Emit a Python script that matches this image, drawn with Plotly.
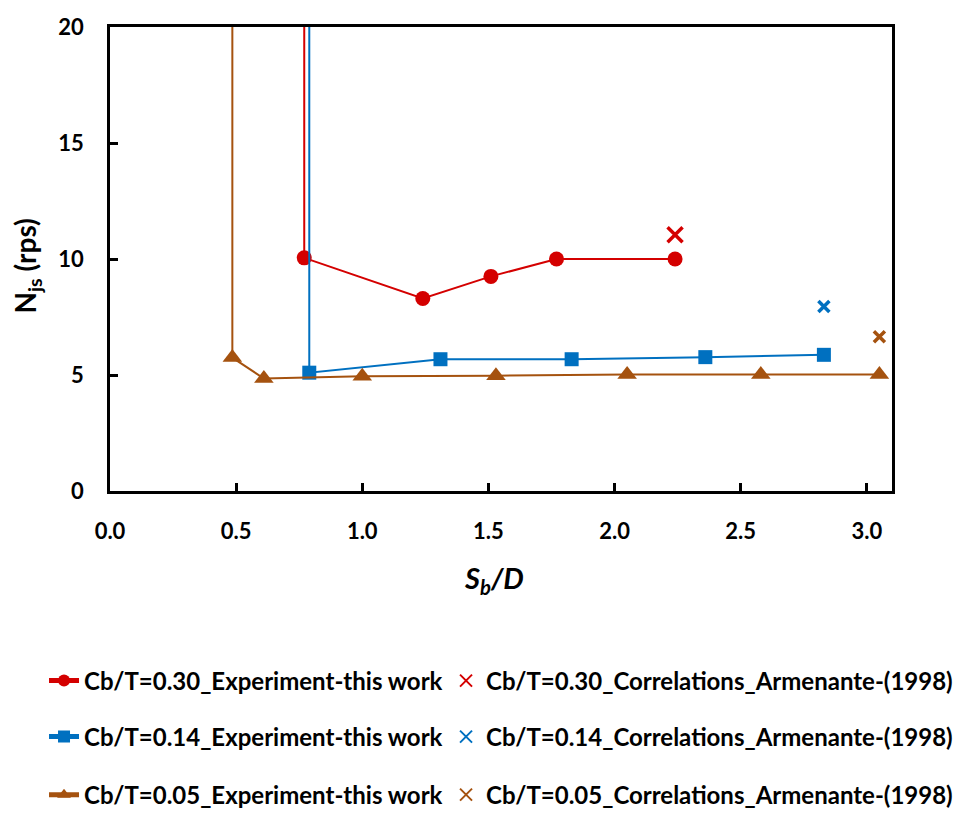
import plotly.graph_objects as go

# Just-suspended speed N_js (rps) against baffle spacing S_b/D
sb_030 = [0.77, 0.77, 1.24, 1.51, 1.77, 2.24]
njs_030 = [20.0, 10.05, 8.3, 9.25, 10.0, 10.0]
sb_014 = [0.79, 0.79, 1.31, 1.83, 2.36, 2.83]
njs_014 = [20.0, 5.1, 5.68, 5.68, 5.77, 5.87]
sb_005 = [0.485, 0.485, 0.61, 1.0, 1.53, 2.05, 2.58, 3.05]
njs_005 = [20.0, 5.75, 4.85, 4.95, 4.97, 5.02, 5.02, 5.02]

# Armenante (1998) correlation values
corr_sb = [2.24, 2.83, 3.05]
corr_njs = [11.05, 7.95, 6.65]

x_ticks = [0.0, 0.5, 1.0, 1.5, 2.0, 2.5, 3.0]
y_ticks = [0, 5, 10, 15, 20]

RED = "#D40000"
BLUE = "#0070C0"
BROWN = "#A5520F"
FONT = "Lato"

fig = go.Figure()


def exp_trace(x, y, color, symbol, size, name, legend):
    # first point is the vertical asymptote, drawn without a marker
    sizes = [0] + [size] * (len(x) - 1)
    return go.Scatter(
        x=x, y=y, mode="lines+markers", name=name, legend=legend,
        line=dict(color=color, width=2),
        marker=dict(color=color, symbol=symbol, size=sizes, opacity=1,
                    line=dict(width=0)),
    )


def corr_trace(i, color, size, name, legend):
    return go.Scatter(
        x=[corr_sb[i]], y=[corr_njs[i]], mode="markers", name=name, legend=legend,
        marker=dict(symbol="x-thin-open", size=size, color=color, opacity=1,
                    line=dict(color=color, width=3.5)),
    )


fig.add_trace(exp_trace(sb_030, njs_030, RED, "circle", 15,
                        "Cb/T=0.30_Experiment-this work", "legend"))
fig.add_trace(exp_trace(sb_014, njs_014, BLUE, "square", 14,
                        "Cb/T=0.14_Experiment-this work", "legend3"))
fig.add_trace(exp_trace(sb_005, njs_005, BROWN, "triangle-up", 17,
                        "Cb/T=0.05_Experiment-this work", "legend5"))
fig.add_trace(corr_trace(0, RED, 15, "Cb/T=0.30_Correlations_Armenante-(1998)", "legend2"))
fig.add_trace(corr_trace(1, BLUE, 11, "Cb/T=0.14_Correlations_Armenante-(1998)", "legend4"))
fig.add_trace(corr_trace(2, BROWN, 11, "Cb/T=0.05_Correlations_Armenante-(1998)", "legend6"))

# legend rows/columns placed in figure (container) coordinates
legend_font = dict(family=FONT, size=24, color="#000000", weight="bold")
row_y = [0.1854, 0.1184, 0.0490]
col_x = [0.0459, 0.4651]
legends = {}
k = 1
for ry in row_y:
    for cx in col_x:
        key = "legend" if k == 1 else f"legend{k}"
        legends[key] = dict(x=cx, y=ry, xref="container", yref="container",
                            xanchor="left", yanchor="middle",
                            font=legend_font, bgcolor="rgba(0,0,0,0)",
                            borderwidth=0, itemsizing="constant")
        k += 1

axis_common = dict(
    showline=True, linewidth=2.5, linecolor="#000000", mirror=True,
    ticks="inside", ticklen=8, tickwidth=2.5, tickcolor="#000000",
    showgrid=False, zeroline=False,
    tickfont=dict(family=FONT, size=22, color="#000000", weight="bold"),
    ticklabelstandoff=19,
)

fig.update_layout(
    width=959, height=836,
    margin=dict(l=110, r=67, t=27, b=345, autoexpand=False),
    paper_bgcolor="#FFFFFF", plot_bgcolor="#FFFFFF",
    showlegend=True,
    xaxis=dict(range=[0, 3.1], tickvals=x_ticks, tickformat=".1f", **axis_common),
    yaxis=dict(range=[0, 20], tickvals=y_ticks, **axis_common),
    annotations=[
        dict(text="<i>S<sub>b</sub>/D</i>", xref="paper", yref="paper",
             x=0.491, y=-0.1897, xanchor="center", yanchor="middle", showarrow=False,
             font=dict(family=FONT, size=29, color="#000000", weight="bold")),
        dict(text="N<sub>js</sub> (rps)", xref="paper", yref="paper", textangle=-90,
             x=-0.1049, y=0.486, xanchor="center", yanchor="middle", showarrow=False,
             font=dict(family=FONT, size=28, color="#000000", weight="bold")),
    ],
    **legends,
)

fig.write_html("out.html")
